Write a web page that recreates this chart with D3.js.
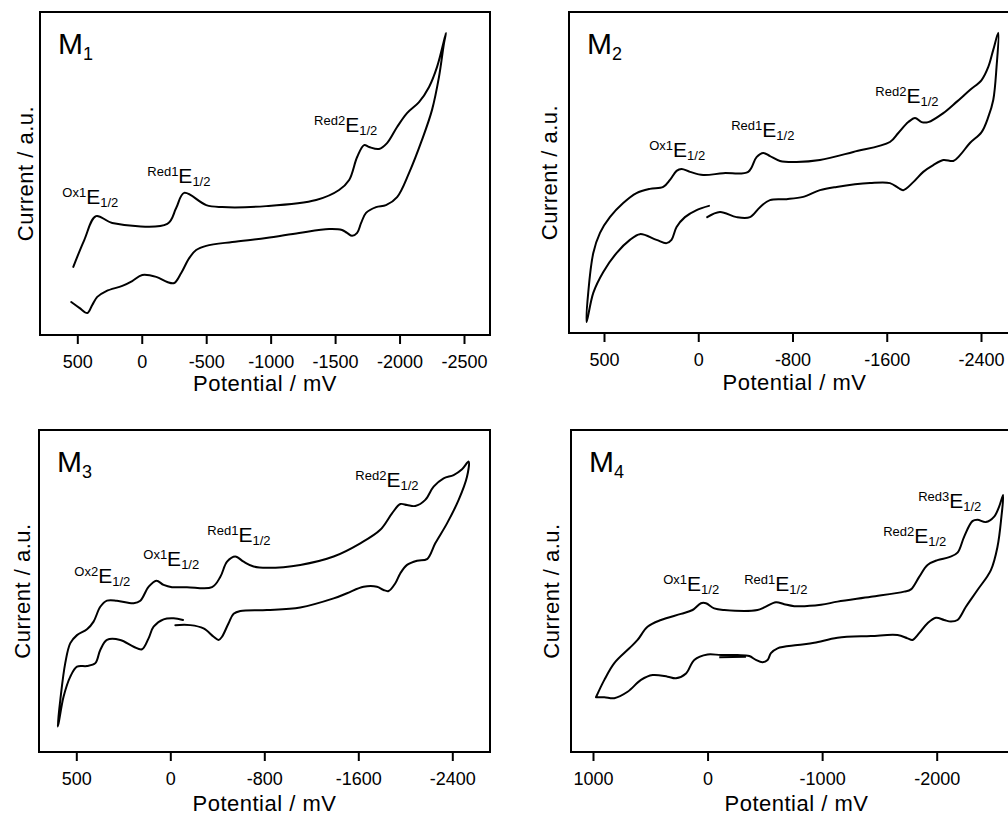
<!DOCTYPE html>
<html>
<head>
<meta charset="utf-8">
<script src="https://cdn.jsdelivr.net/npm/d3@7"></script>
<style>
  body { margin: 0; background: #fff; }
  svg text { font-family: "Liberation Sans", Arial, Helvetica, sans-serif; fill: #000; }
</style>
</head>
<body>
<div id="chart"></div>
<script>

// cyclic voltammograms, [potential in mV, current in a.u. (0 = frame bottom, 100 = frame top)]
var m1Scan = [
  [531,21.1],[446,29.4],[355,36.8],[229,34.7],[-198,34.4],[-267,39.3],[-329,44.0],[-500,40.2],[-624,39.6],
  [-965,39.9],[-1353,41.8],[-1531,44.9],[-1609,48.0],[-1671,55.1],[-1725,58.8],[-1764,58.2],[-1841,57.6],
  [-1903,59.4],[-1981,64.4],[-2058,68.7],[-2151,72.1],[-2229,76.8],[-2291,83.0],[-2360,93.5],
  [-2345,90.4],[-2306,79.9],[-2252,69.7],[-2174,60.4],[-2074,50.2],[-1981,42.7],[-1895,40.2],[-1818,39.6],
  [-1740,37.8],[-1702,34.7],[-1671,31.6],[-1632,30.7],[-1593,31.6],[-1554,32.5],[-1454,32.8],[-1221,31.6],
  [-965,30.0],[-702,28.8],[-500,27.6],[-422,26.3],[-368,23.8],[-306,19.2],[-252,16.1],[-198,16.4],
  [-112,18.0],[-4,18.6],[74,16.7],[151,15.2],[275,13.6],[345,11.8],[384,9.3],[422,6.8],[484,8.4],[547,10.2]
];
var m2Scan = [
  [-91,39.6],[14,38.3],[113,36.1],[184,33.0],[227,29.0],[269,28.0],[354,29.0],[495,30.8],[580,29.0],
  [694,24.9],[806,19.0],[891,12.5],[948,3.4],
  [934,12.5],[891,24.9],[834,31.2],[750,36.1],[637,40.5],[524,43.6],[410,44.9],[297,45.5],[240,47.7],
  [184,50.5],[142,51.1],[70,50.2],[-42,49.2],[-212,49.8],[-424,50.2],[-495,54.8],[-552,56.1],[-609,55.1],
  [-694,53.6],[-834,53.3],[-1033,53.9],[-1316,56.4],[-1627,59.5],[-1698,62.3],[-1783,65.7],[-1840,67.0],
  [-1896,65.7],[-1952,65.7],[-2080,68.5],[-2193,72.0],[-2306,75.7],[-2405,78.8],[-2462,82.9],[-2504,88.2],
  [-2547,93.5],
  [-2532,82.9],[-2504,72.6],[-2462,67.3],[-2405,62.6],[-2306,59.2],[-2222,55.4],[-2165,53.6],[-2080,53.9],
  [-1995,52.3],[-1910,50.2],[-1825,47.0],[-1740,44.5],[-1698,45.2],[-1627,46.7],[-1458,46.7],[-1174,45.5],
  [-1033,44.5],[-891,42.4],[-750,41.7],[-609,41.4],[-524,39.2],[-439,36.1],[-325,36.1],[-184,37.7],[-76,36.1]
];
var m3Scan = [
  [-108,41.0],[-28,41.5],[57,41.2],[142,38.9],[185,35.3],[241,31.9],[312,32.7],[426,34.8],[539,34.8],
  [596,31.7],[638,27.6],[709,26.7],[794,26.5],[851,23.4],[908,17.2],[951,8.9],[959,7.9],
  [936,16.2],[894,27.6],[851,33.8],[794,36.3],[709,38.1],[653,40.5],[596,45.1],[539,47.0],[454,47.0],
  [312,46.2],[255,47.0],[185,51.3],[119,53.2],[57,51.9],[-14,51.2],[-142,51.2],[-355,51.2],[-426,54.4],
  [-483,59.1],[-553,60.7],[-624,59.1],[-709,57.6],[-823,57.2],[-1106,58.1],[-1390,60.7],[-1617,64.8],
  [-1787,69.0],[-1887,74.1],[-1958,77.0],[-2015,76.7],[-2085,76.4],[-2170,78.3],[-2241,82.4],[-2326,85.0],
  [-2411,86.0],[-2483,87.8],[-2539,90.2],
  [-2525,85.5],[-2454,78.3],[-2355,71.0],[-2255,64.8],[-2185,59.9],[-2100,59.4],[-2015,58.1],[-1958,55.5],
  [-1915,52.4],[-1858,50.0],[-1815,50.3],[-1759,51.3],[-1645,51.3],[-1504,49.3],[-1390,47.7],[-1106,44.9],
  [-823,44.1],[-596,43.8],[-539,42.9],[-496,40.0],[-440,35.8],[-411,34.8],[-369,35.8],[-283,38.4],
  [-170,39.4],[-43,39.4]
];
var m4Scan = [
  [974,17.0],[901,22.4],[814,27.6],[683,32.2],[611,34.8],[524,38.9],[407,41.0],[232,42.9],[131,44.1],
  [58,46.2],[14,46.2],[-58,44.6],[-146,44.1],[-436,44.1],[-495,44.9],[-597,46.5],[-669,45.9],[-757,45.3],
  [-990,45.7],[-1134,46.7],[-1426,48.2],[-1716,49.8],[-1775,50.5],[-1847,54.4],[-1920,58.1],[-2007,59.6],
  [-2109,60.5],[-2182,61.9],[-2240,66.9],[-2312,71.7],[-2356,72.1],[-2429,71.4],[-2502,73.1],[-2545,76.2],
  [-2580,79.8],
  [-2565,73.1],[-2531,63.8],[-2473,56.5],[-2356,50.3],[-2255,45.1],[-2182,41.0],[-2124,40.5],[-2065,41.0],
  [-1993,41.7],[-1920,40.0],[-1847,36.9],[-1789,34.8],[-1745,35.3],[-1658,36.3],[-1426,36.0],[-1134,35.5],
  [-931,33.9],[-785,33.2],[-611,32.2],[-553,30.7],[-524,28.6],[-480,27.9],[-422,28.6],[-364,29.8],
  [-262,30.1],[-117,30.1],[0,30.3],[116,28.6],[188,24.4],[276,22.9],[349,23.4],[480,23.9],[581,22.4],
  [698,18.7],[814,16.7],[901,17.0],[974,17.0]
];
// short doubled piece of the last M4 scan near the start potential
var m4Extra = [[-102,29.4],[-335,29.6]];

// half-wave potential labels: name + where the label starts [mV, a.u.]
var m1Peaks = ["Ox1", "Red1", "Red2"];
var m1PeakAt = [[616,40.6],[-43,47.1],[-1337,62.8]];
var m2Peaks = ["Ox1", "Red1", "Red2"];
var m2PeakAt = [[416,54.8],[-280,61.1],[-1503,71.6]];
var m3Peaks = ["Ox2", "Ox1", "Red1", "Red2"];
var m3PeakAt = [[817,52.5],[230,57.8],[-315,65.2],[-1575,82.3]];
var m4Peaks = ["Ox1", "Red1", "Red2", "Red3"];
var m4PeakAt = [[387,50.0],[-320,50.0],[-1533,64.9],[-1838,75.8]];

// tick positions and the labels printed under them
var m1Ticks = [500, 0, -500, -1000, -1500, -2000, -2500];
var m1TickLabels = ["500", "0", "-500", "-1000", "-1500", "-2000", "-2500"];
var m2Ticks = [800, 0, -800, -1600, -2400];
var m2TickLabels = ["500", "0", "-800", "-1600", "-2400"];
var m3Ticks = [800, 0, -800, -1600, -2400];
var m3TickLabels = ["500", "0", "-800", "-1600", "-2400"];
var m4Ticks = [1000, 0, -1000, -2000];
var m4TickLabels = ["1000", "0", "-1000", "-2000"];

var xTitle = "Potential / mV";
var yTitle = "Current / a.u.";

var svg = d3.select("#chart").append("svg")
    .attr("width", 1008)
    .attr("height", 815);

// panel frames (right hand panels run off the page like in the figure)
var panels = [
  {name: "1", scan: m1Scan, peaks: m1Peaks, peakAt: m1PeakAt, ticks: m1Ticks, tickLabels: m1TickLabels,
   left: 40, top: 12, right: 490, bottom: 335, xd: [500, -2500], xr: [77.3, 464], yTitleX: 33, xTitleY: 391},
  {name: "2", scan: m2Scan, peaks: m2Peaks, peakAt: m2PeakAt, ticks: m2Ticks, tickLabels: m2TickLabels,
   left: 569, top: 12, right: 1020, bottom: 333, xd: [800, -2400], xr: [604, 981], yTitleX: 557, xTitleY: 390},
  {name: "3", scan: m3Scan, peaks: m3Peaks, peakAt: m3PeakAt, ticks: m3Ticks, tickLabels: m3TickLabels,
   left: 39, top: 430, right: 490, bottom: 752, xd: [800, -2400], xr: [76.3, 452.3], yTitleX: 30, xTitleY: 811},
  {name: "4", scan: m4Scan, peaks: m4Peaks, peakAt: m4PeakAt, ticks: m4Ticks, tickLabels: m4TickLabels,
   left: 571, top: 430, right: 1022, bottom: 752, xd: [1000, -2000], xr: [593, 936.7], yTitleX: 559, xTitleY: 811,
   extra: m4Extra}
];

panels.forEach(function(p) {
    var x = d3.scaleLinear().domain(p.xd).range(p.xr);
    var y = d3.scaleLinear().domain([0, 100]).range([p.bottom, p.top]);
    var g = svg.append("g");

    g.append("rect")
        .attr("x", p.left).attr("y", p.top)
        .attr("width", p.right - p.left).attr("height", p.bottom - p.top)
        .attr("fill", "none").attr("stroke", "#000").attr("stroke-width", 2);

    var xAxis = d3.axisBottom(x)
        .tickValues(p.ticks)
        .tickSize(9)
        .tickPadding(11)
        .tickFormat(function(d, i) { return p.tickLabels[i]; });

    g.append("g")
        .attr("transform", "translate(0," + p.bottom + ")")
        .call(xAxis)
        .call(function(a) {
            a.select(".domain").remove();
            a.selectAll(".tick line").attr("stroke", "#000").attr("stroke-width", 2);
            a.selectAll(".tick text")
                .attr("font-size", 18)
                .attr("font-family", "'Liberation Sans', Arial, sans-serif")
                .attr("fill", "#000");
        });

    var line = d3.line()
        .x(function(d) { return x(d[0]); })
        .y(function(d) { return y(d[1]); })
        .curve(d3.curveCatmullRom.alpha(0.5));

    g.append("path")
        .datum(p.scan)
        .attr("d", line)
        .attr("fill", "none").attr("stroke", "#000")
        .attr("stroke-width", 2).attr("stroke-linejoin", "round").attr("stroke-linecap", "round");

    if (p.extra) {
        g.append("path")
            .datum(p.extra)
            .attr("d", line)
            .attr("fill", "none").attr("stroke", "#000").attr("stroke-width", 2);
    }

    // E1/2 labels
    p.peaks.forEach(function(name, i) {
        var t = g.append("text")
            .attr("x", x(p.peakAt[i][0]))
            .attr("y", y(p.peakAt[i][1]));
        t.append("tspan").attr("font-size", 13).attr("dy", -7).text(name);
        t.append("tspan").attr("font-size", 21).attr("dy", 7).text("E");
        t.append("tspan").attr("font-size", 13).attr("dy", 3).text("1/2");
    });

    // panel name
    var m = g.append("text")
        .attr("x", p.left + 18)
        .attr("y", p.top + 42)
        .attr("font-size", 30)
        .text("M");
    m.append("tspan").attr("font-size", 18).attr("dy", 6).text(p.name);

    // axis titles
    g.append("text")
        .attr("x", (p.left + p.right) / 2)
        .attr("y", p.xTitleY)
        .attr("text-anchor", "middle")
        .attr("font-size", 22)
        .attr("letter-spacing", 0.5)
        .text(xTitle);

    g.append("text")
        .attr("transform", "translate(" + p.yTitleX + "," + ((p.top + p.bottom) / 2) + ") rotate(-90)")
        .attr("text-anchor", "middle")
        .attr("font-size", 22)
        .attr("letter-spacing", 0.5)
        .text(yTitle);
});

</script>
</body>
</html>
